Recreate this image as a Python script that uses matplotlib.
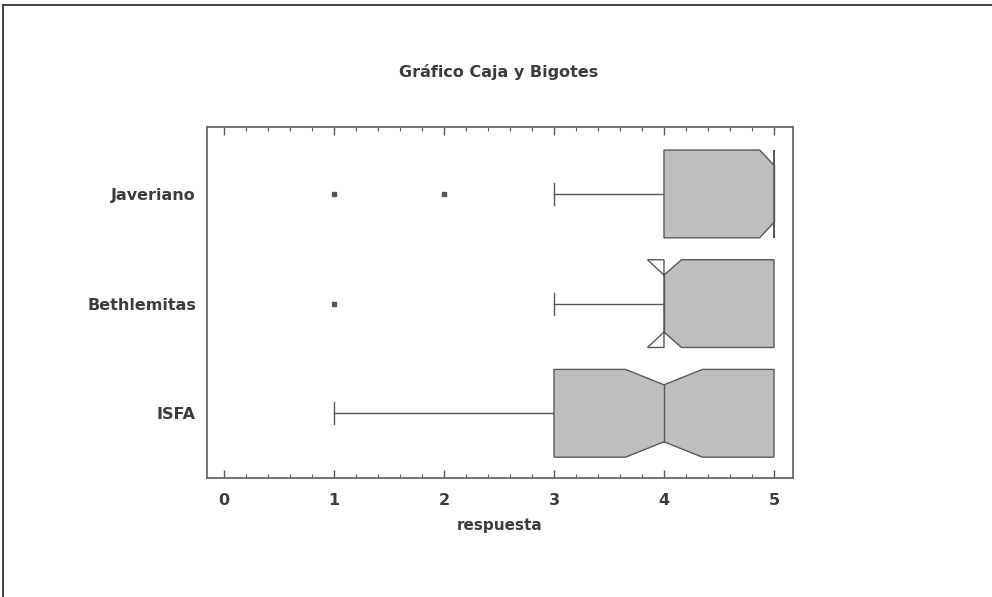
import matplotlib
matplotlib.use("Agg")
import matplotlib.pyplot as plt
from matplotlib.patches import Polygon, Rectangle
from matplotlib.lines import Line2D
from matplotlib.ticker import MultipleLocator

# Summary statistics per school (bottom to top)
groups = ["ISFA", "Bethlemitas", "Javeriano"]
q1 = [3.0, 4.0, 4.0]
med = [4.0, 4.0, 5.0]
q3 = [5.0, 5.0, 5.0]
whislo = [1.0, 3.0, 3.0]
whishi = [5.0, 5.0, 5.0]
cilo = [3.65, 3.85, 4.87]
cihi = [4.35, 4.16, 5.0]
fliers = [[], [1.0], [1.0, 2.0]]

title = "Gráfico Caja y Bigotes"
xlabel = "respuesta"
xticks = [0, 1, 2, 3, 4, 5]

box_fill = "#bebebe"
edge = "#595959"
text_col = "#3c3c3c"
font = ["DejaVu Sans"]

fig = plt.figure(figsize=(9.92, 5.97), dpi=100)
ax = fig.add_axes([207 / 992, 119 / 597, 586 / 992, 351 / 597])

half = 0.40      # half box thickness
notch = 0.65     # notch depth as a fraction of the half thickness
capw = 0.10      # half cap length

positions = list(range(1, len(groups) + 1))

# whiskers, caps and outliers
stats = []
for i in range(len(groups)):
    stats.append(dict(med=med[i], q1=q1[i], q3=q3[i], whislo=whislo[i],
                      whishi=whishi[i], fliers=fliers[i], label=groups[i]))
parts = ax.bxp(stats, positions=positions, vert=False, widths=2 * half,
               showbox=False, showcaps=True, showfliers=True,
               whiskerprops=dict(color=edge, lw=1.0),
               capprops=dict(color=edge, lw=1.0),
               capwidths=2 * capw,
               medianprops=dict(visible=False),
               flierprops=dict(marker="s", markersize=3.2, markerfacecolor="#555555",
                               markeredgecolor="#555555"))
# a whisker that ends on the box edge gets no cap
for i in range(len(groups)):
    if whislo[i] >= q1[i]:
        parts["caps"][2 * i].set_visible(False)
    if whishi[i] <= q3[i]:
        parts["caps"][2 * i + 1].set_visible(False)

# notched boxes
for i, p in enumerate(positions):
    lo, hi = p - half, p + half
    nlo, nhi = p - half * notch, p + half * notch
    verts = [(q1[i], lo), (cilo[i], lo), (med[i], nlo), (cihi[i], lo),
             (q3[i], lo), (q3[i], hi), (cihi[i], hi), (med[i], nhi),
             (cilo[i], hi), (q1[i], hi)]
    fill = Polygon(verts, closed=True, facecolor=box_fill, edgecolor="none", zorder=2)
    ax.add_patch(fill)
    clip = Rectangle((q1[i], lo), q3[i] - q1[i], hi - lo, transform=ax.transData)
    fill.set_clip_path(clip)
    ax.add_patch(Polygon(verts, closed=True, facecolor="none", edgecolor=edge,
                         lw=1.0, zorder=3))
    ax.plot([med[i], med[i]], [nlo, nhi], color=edge, lw=1.0, zorder=3)

ax.set_xlim(-0.155, 5.173)
ax.set_ylim(0.41, 3.61)
ax.set_yticks(positions)
ax.set_yticklabels(groups)
ax.set_xticks(xticks)
ax.xaxis.set_minor_locator(MultipleLocator(0.2))
ax.tick_params(axis="x", which="both", direction="in", top=True, bottom=True,
               color=edge, labelcolor=text_col, labelsize=11.5, pad=11)
ax.tick_params(axis="x", which="major", length=6, width=1.0)
ax.tick_params(axis="x", which="minor", length=3, width=0.8)
ax.tick_params(axis="y", which="both", length=0, labelcolor=text_col,
               labelsize=11.5, pad=8)
for lab in ax.get_xticklabels() + ax.get_yticklabels():
    lab.set_family(font)
    lab.set_fontweight("bold")
for s in ax.spines.values():
    s.set_color("#6a6a6a")
    s.set_linewidth(1.3)

ax.set_xlabel(xlabel, fontsize=11, fontweight="bold", color=text_col,
              family=font, labelpad=7)
fig.text(499 / 992, 1 - 72 / 597, title, ha="center", va="center",
         fontsize=11.5, fontweight="bold", color=text_col, family=font)

# page frame on top and left
fig.add_artist(Line2D([3 / 992, 1.0], [1 - 5 / 597, 1 - 5 / 597],
                      transform=fig.transFigure, color="#333333", lw=1.3))
fig.add_artist(Line2D([3 / 992, 3 / 992], [0.0, 1 - 5 / 597],
                      transform=fig.transFigure, color="#333333", lw=1.3))

fig.savefig("out.png", dpi=100)
